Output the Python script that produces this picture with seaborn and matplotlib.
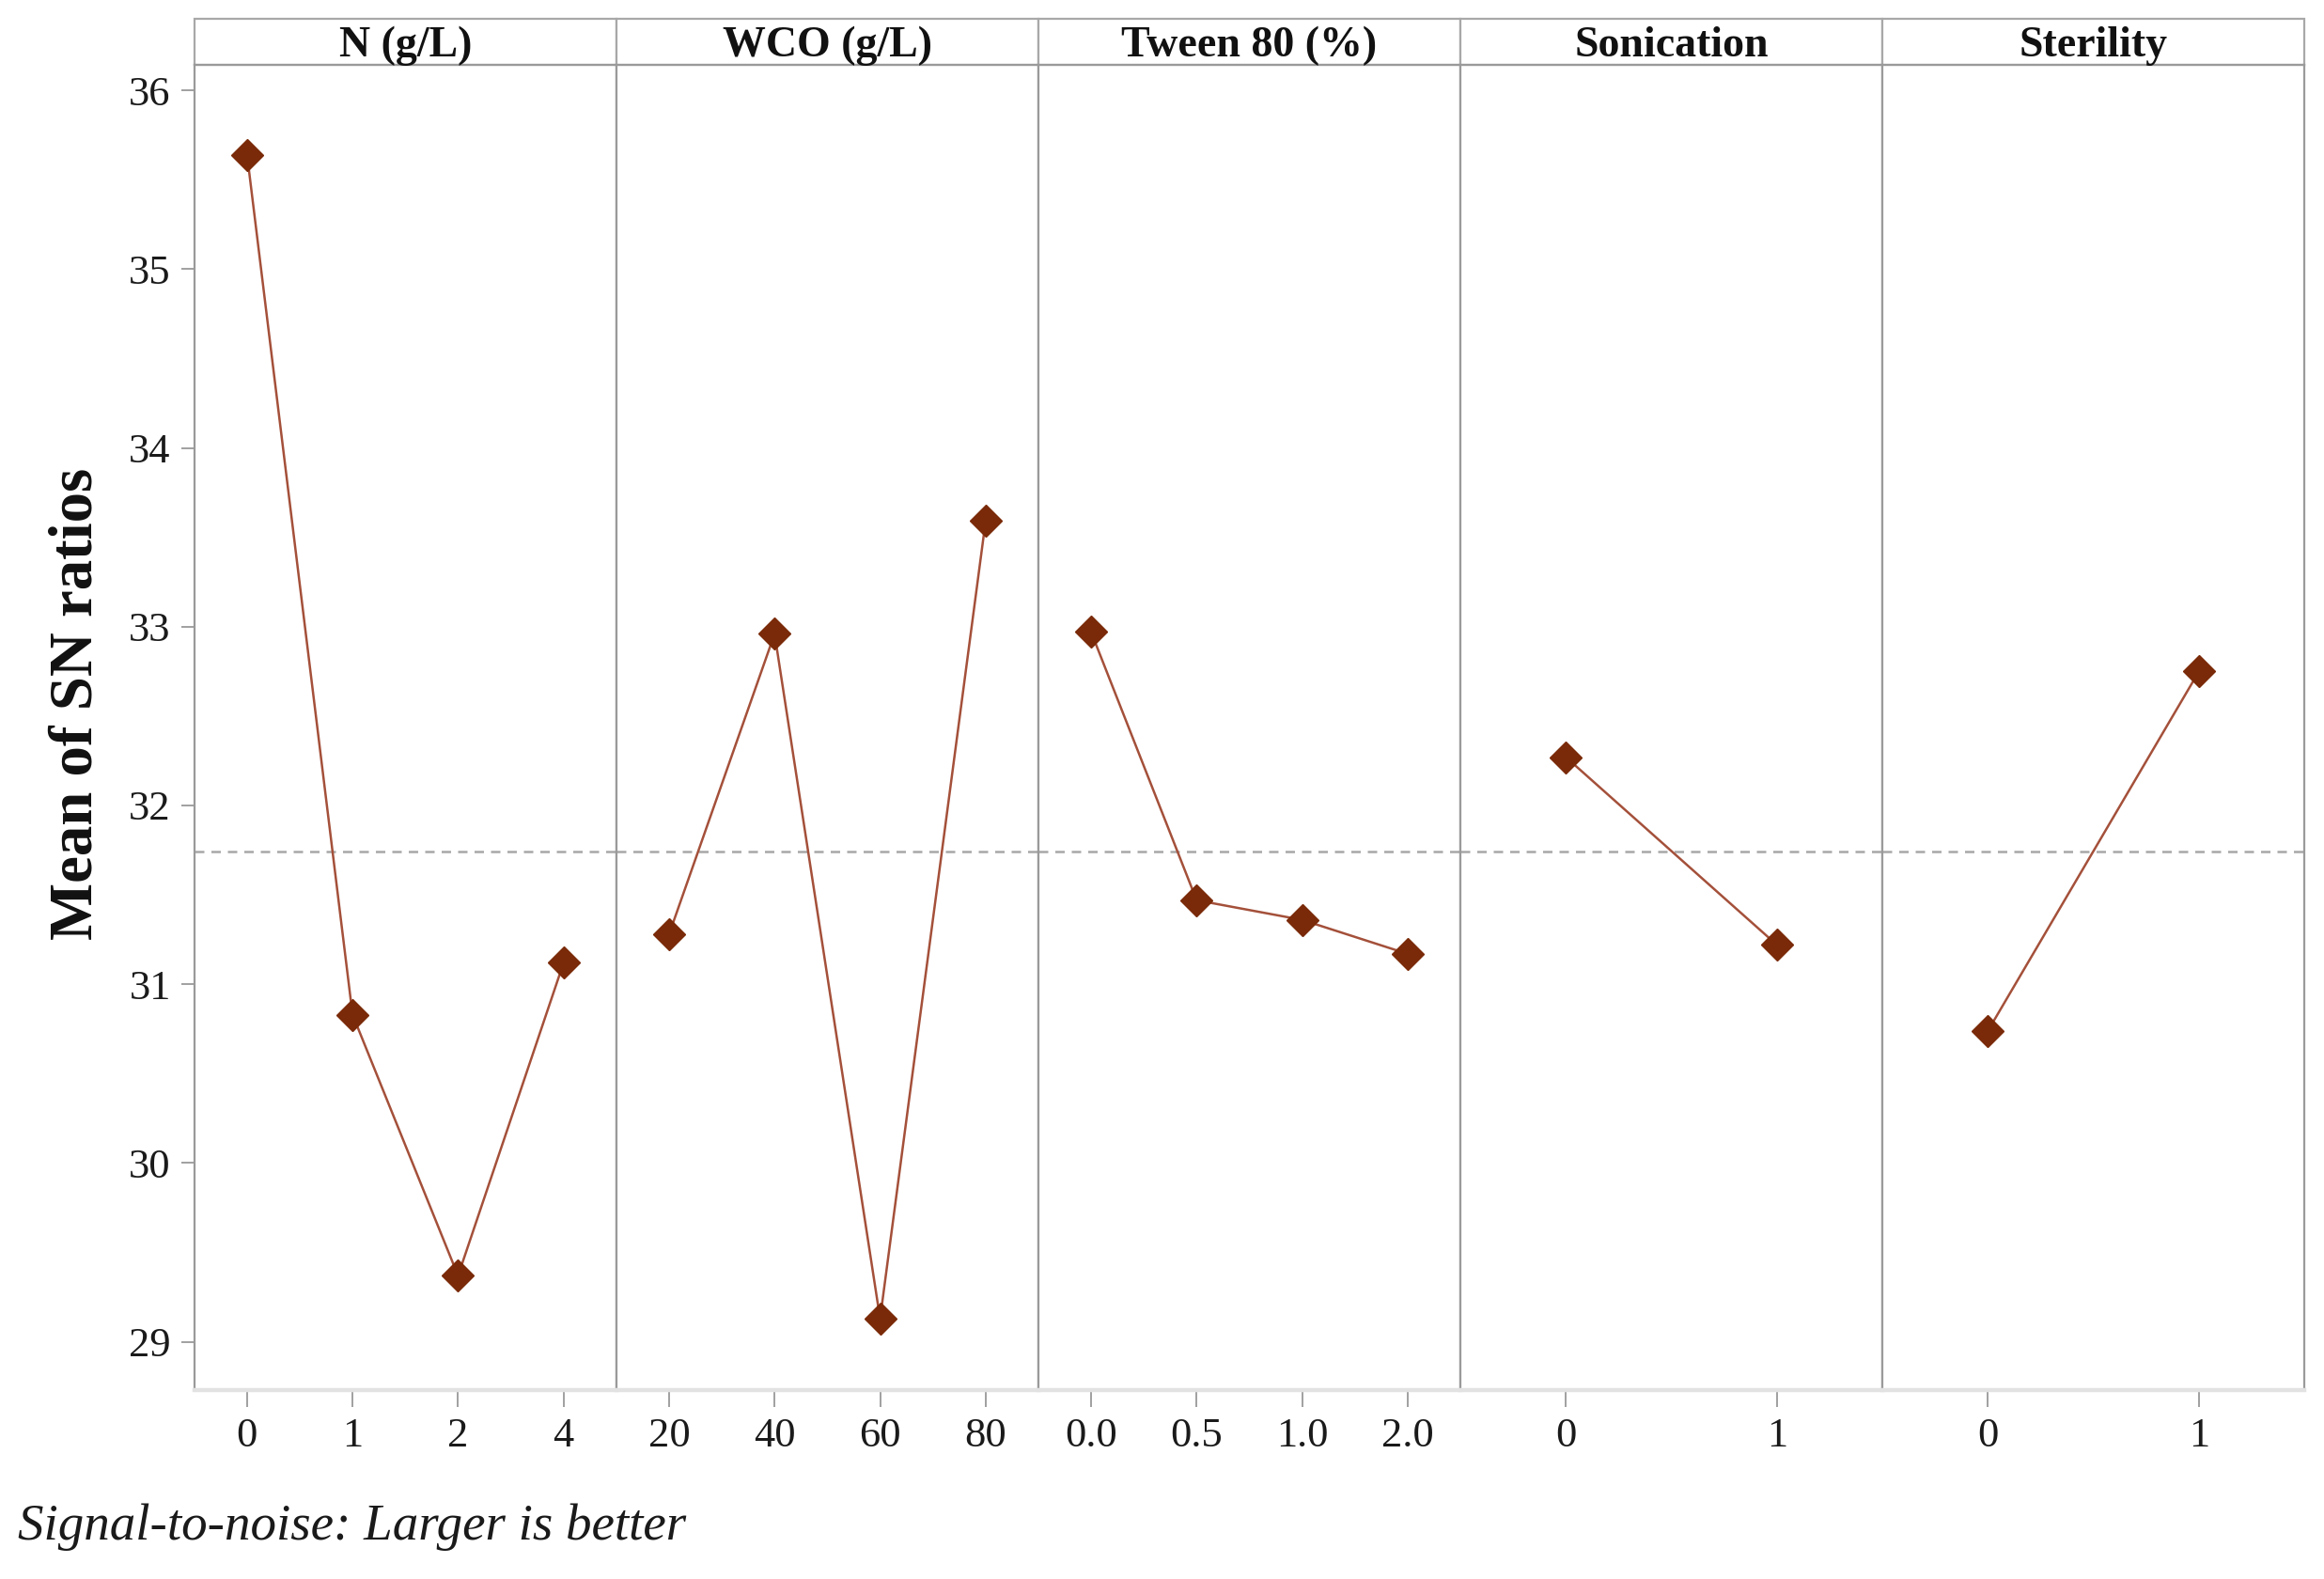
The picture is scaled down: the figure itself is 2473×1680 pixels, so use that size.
import numpy as np
import pandas as pd
import matplotlib
matplotlib.use("Agg")
import matplotlib.pyplot as plt
from matplotlib.patches import Rectangle
import seaborn as sns

# Main effects plot for SN ratios
factors = ["N (g/L)", "WCO (g/L)", "Tween 80 (%)", "Sonication", "Sterility"]
levels_n = ["0", "1", "2", "4"]
levels_wco = ["20", "40", "60", "80"]
levels_tween = ["0.0", "0.5", "1.0", "2.0"]
levels_son = ["0", "1"]
levels_ster = ["0", "1"]

sn_n = [35.64, 30.83, 29.37, 31.12]
sn_wco = [31.28, 32.96, 29.13, 33.59]
sn_tween = [32.97, 31.47, 31.36, 31.17]
sn_son = [32.27, 31.22]
sn_ster = [30.74, 32.75]

all_levels = [levels_n, levels_wco, levels_tween, levels_son, levels_ster]
all_sn = [sn_n, sn_wco, sn_tween, sn_son, sn_ster]

rows = []
for f, lv, vals in zip(factors, all_levels, all_sn):
    for l, v in zip(lv, vals):
        rows.append({"factor": f, "level": l, "sn": v})
df = pd.DataFrame(rows)

grand_mean = df.groupby("factor")["sn"].mean().mean()

sns.set_theme(style="white")
plt.rcParams["font.family"] = ["Liberation Serif", "DejaVu Serif"]

line_color = "#a4503a"
marker_color = "#7a2a08"
frame_gray = "#9a9a9a"

fig, axes = plt.subplots(1, 5, figsize=(12.365, 8.4), dpi=200, sharey=True,
                         gridspec_kw={"wspace": 0})
fig.subplots_adjust(left=0.0836, right=0.9916, top=0.9587, bottom=0.1196)

for ax, f, lv in zip(axes, factors, all_levels):
    sub = df[df["factor"] == f]
    sns.pointplot(data=sub, x="level", y="sn", order=lv, errorbar=None,
                  color=line_color, markers="D", linewidth=0.9,
                  markersize=8.8, markerfacecolor=marker_color,
                  markeredgecolor=marker_color, markeredgewidth=0.5, ax=ax)
    ax.axhline(grand_mean, color="#a8a8a8", linestyle=(0, (4, 3)),
               linewidth=0.9, zorder=0)
    ax.set_xlim(-0.5, len(lv) - 0.5)
    ax.set_xlabel("")
    ax.set_ylabel("")
    for side in ["left", "right", "top"]:
        ax.spines[side].set_color(frame_gray)
        ax.spines[side].set_linewidth(0.8)
    ax.spines["bottom"].set_color("#e2e2e2")
    ax.spines["bottom"].set_linewidth(1.6)
    ax.tick_params(axis="x", length=6.5, width=0.6, color="#909090",
                   labelsize=16, labelcolor="#1a1a1a", pad=4, bottom=True)
    ax.tick_params(axis="y", length=5, width=0.6, color="#909090",
                   labelsize=16, labelcolor="#1a1a1a", pad=4)
    # strip header
    strip_h = 0.0347
    ax.add_patch(Rectangle((0, 1), 1, strip_h, transform=ax.transAxes,
                           facecolor="white", edgecolor="#a8a8a8",
                           linewidth=0.8, clip_on=False))
    ax.text(0.5, 1 + strip_h * 0.42, f, transform=ax.transAxes, ha="center",
            va="center", fontsize=16.5, fontweight="bold", color="#111111")

axes[0].set_ylim(28.73, 36.14)
axes[0].set_yticks(range(29, 37))
axes[0].tick_params(axis="y", left=True)
for ax in axes[1:]:
    ax.tick_params(axis="y", left=False)

fig.text(0.033, 0.554, "Mean of SN ratios", rotation=90, ha="center",
         va="center", fontsize=23.3, fontweight="bold", color="#111111")
fig.text(0.0077, 0.033, "Signal-to-noise: Larger is better", ha="left",
         va="center", fontsize=19.8, fontstyle="italic", color="#1a1a1a")

fig.savefig("out.png", dpi=200)
